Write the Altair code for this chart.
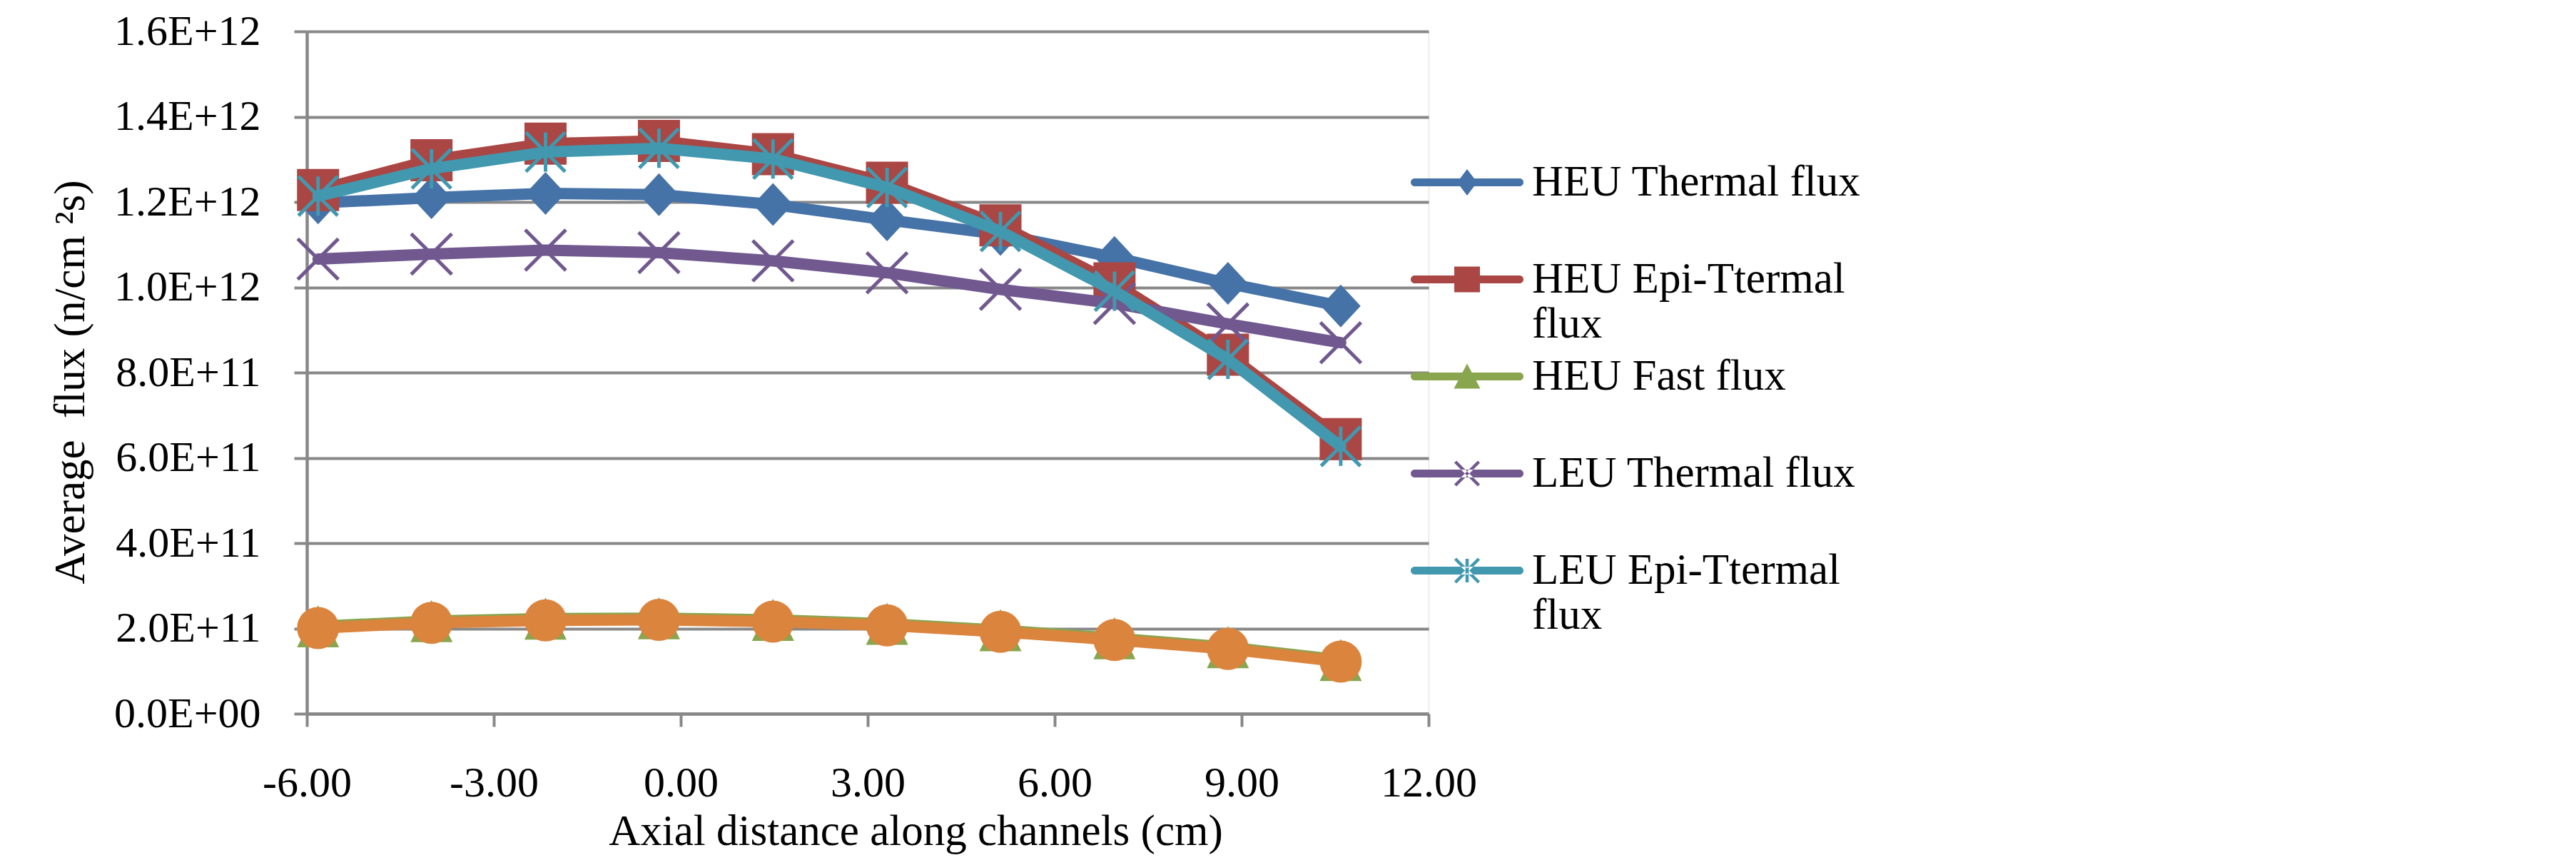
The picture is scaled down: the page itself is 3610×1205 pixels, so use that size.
import math
import altair as alt
import pandas as pd

# ---------------- data ----------------
X_CM = [-5.82, -4.00, -2.17, -0.35, 1.48, 3.31, 5.13, 6.96, 8.78, 10.59]

HEU_THERMAL = [1.198e12, 1.210e12, 1.220e12, 1.217e12, 1.194e12, 1.158e12, 1.124e12, 1.070e12, 1.009e12, 0.956e12]
HEU_EPI     = [1.228e12, 1.298e12, 1.337e12, 1.343e12, 1.312e12, 1.245e12, 1.145e12, 1.009e12, 0.842e12, 0.644e12]
HEU_FAST    = [0.205e12, 0.217e12, 0.223e12, 0.224e12, 0.220e12, 0.211e12, 0.196e12, 0.177e12, 0.156e12, 0.126e12]
LEU_THERMAL = [1.066e12, 1.078e12, 1.087e12, 1.081e12, 1.062e12, 1.034e12, 0.995e12, 0.962e12, 0.914e12, 0.870e12]
LEU_EPI     = [1.214e12, 1.278e12, 1.317e12, 1.326e12, 1.301e12, 1.234e12, 1.131e12, 0.991e12, 0.831e12, 0.627e12]
LEU_FAST    = [0.201e12, 0.213e12, 0.219e12, 0.220e12, 0.216e12, 0.207e12, 0.192e12, 0.173e12, 0.152e12, 0.122e12]

SERIES = ["HEU Thermal flux", "HEU Epi-Ttermal flux", "HEU Fast flux",
          "LEU Thermal flux", "LEU Epi-Ttermal flux", "LEU Fast flux"]
VALUES = [HEU_THERMAL, HEU_EPI, HEU_FAST, LEU_THERMAL, LEU_EPI, LEU_FAST]
LEGEND_SERIES = SERIES[:5]   # the last series has no legend entry in the reference

X_TICKS = [-6, -3, 0, 3, 6, 9, 12]
Y_TICKS = [0, 2e11, 4e11, 6e11, 8e11, 1.0e12, 1.2e12, 1.4e12, 1.6e12]

# ---------------- styles ----------------
COLORS = ["#4572A7", "#AA4643", "#89A54E", "#71588F", "#4198AF", "#DB843D"]
FONT = "Liberation Serif"
GRID = "#888888"
LABEL_FS = 61

# plot markers: (shape, filled, size, strokeWidth)
MARKERS = [
    ("M0,-1L0.93,0L0,1L-0.93,0Z", True, 3600, 0),
    ("square", True, 3481, 0),
    ("M0,-1L1,1L-1,1Z", True, 3481, 0),
    ("M-1,-1L1,1M-1,1L1,-1", False, 3249, 5),
    ("M-1,-1L1,1M-1,1L1,-1M0,-1L0,1", False, 3025, 5),
    ("circle", True, 3481, 0),
]

# legend symbols: line + marker, drawn as filled paths; unit U px
U = LABEL_FS / 2.0
LEG_S = (2 * U) ** 2
SYM_OFF = 79 - U


def p(v):
    return f"{v / U:.4f}"


def seg(x0, y0, x1, y1, w):
    dx, dy = x1 - x0, y1 - y0
    ln = math.hypot(dx, dy)
    nx, ny = -dy / ln * w / 2, dx / ln * w / 2
    return (f"M{p(x0+nx)},{p(y0+ny)}L{p(x1+nx)},{p(y1+ny)}"
            f"L{p(x1-nx)},{p(y1-ny)}L{p(x0-nx)},{p(y0-ny)}Z")


def legend_line(half_len=79.0, half_th=5.5):
    L, t = half_len - half_th, half_th
    return (f"M{p(-L)},{p(-t)}L{p(L)},{p(-t)}A{p(t)},{p(t)} 0 0 1 {p(L)},{p(t)}"
            f"L{p(-L)},{p(t)}A{p(t)},{p(t)} 0 0 1 {p(-L)},{p(-t)}Z")


a, w = 16.5, 4.5
LEG_MARK = [
    f"M0,{p(-18.5)}L{p(14)},0L0,{p(18.5)}L{p(-14)},0Z",
    f"M{p(-18)},{p(-18)}L{p(18)},{p(-18)}L{p(18)},{p(18)}L{p(-18)},{p(18)}Z",
    f"M0,{p(-18)}L{p(18.5)},{p(17)}L{p(-18.5)},{p(17)}Z",
    seg(-a, -a, a, a, w) + seg(-a, a, a, -a, w),
    seg(-a, -a, a, a, w) + seg(-a, a, a, -a, w) + seg(0, -a, 0, a, w),
]
LEG_PATHS = [legend_line() + m for m in LEG_MARK]

# ---------------- table ----------------
rows = []
for name, vals in zip(SERIES, VALUES):
    for xv, yv in zip(X_CM, vals):
        rows.append({"x": xv, "flux": yv, "series": name})
df = pd.DataFrame(rows)

x_enc = alt.X(
    "x:Q",
    scale=alt.Scale(domain=[-6, 12], nice=False, zero=False),
    axis=alt.Axis(
        values=X_TICKS,
        labelExpr="replace(format(datum.value, '.2f'), '\u2212', '-')",
        grid=False, labelFlush=False,
        domainColor=GRID, domainWidth=4.5,
        tickColor=GRID, tickWidth=4, tickSize=18,
        labelFont=FONT, labelFontSize=60, labelColor="black", labelLimit=1000,
        labelBaseline="alphabetic", labelPadding=97,
        title="Axial distance along channels (cm)",
        titleFont=FONT, titleFontSize=61, titleFontWeight="normal", titleColor="black",
        titleX=853, titleY=183, titleBaseline="alphabetic", titleAlign="center",
    ),
)
y_enc = alt.Y(
    "flux:Q",
    scale=alt.Scale(domain=[0, 1.6e12], nice=False, zero=True),
    axis=alt.Axis(
        values=Y_TICKS,
        labelExpr="datum.value == 0 ? '0.0E+00' : upper(format(datum.value, '.1e'))",
        grid=True, gridColor=GRID, gridWidth=4, labelFlush=False,
        domainColor=GRID, domainWidth=4.5,
        tickColor=GRID, tickWidth=4, tickSize=18,
        labelFont=FONT, labelFontSize=60, labelColor="black", labelPadding=47,
        labelLimit=1000,
        title="Average\u00a0 flux (n/cm \u00b2s)",
        titleFont=FONT, titleFontSize=61, titleFontWeight="normal", titleColor="black",
        titleAngle=270, titleX=-331, titleY=491, titleBaseline="middle", titleAlign="center",
    ),
)

base = alt.Chart(df)
layers = []
for i, name in enumerate(SERIES):
    sub = base.transform_filter(alt.datum.series == name)
    layers.append(
        sub.mark_line(color=COLORS[i], strokeWidth=16, strokeCap="round",
                      strokeJoin="round", opacity=1).encode(x=x_enc, y=y_enc)
    )
    shape, filled, size, sw = MARKERS[i]
    layers.append(
        sub.mark_point(shape=shape, filled=filled, size=size, color=COLORS[i],
                       strokeWidth=sw, opacity=1).encode(x=x_enc, y=y_enc)
    )

label_expr = ("indexof(datum.label, 'Epi') >= 0 ? "
              "[replace(datum.label, ' flux', ''), 'flux'] : [datum.label, '']")
leg = alt.Legend(
    title=None, orient="none", legendX=1547, legendY=181, padding=0,
    labelFont=FONT, labelFontSize=LABEL_FS, labelColor="black",
    symbolOffset=SYM_OFF, labelOffset=170 - 2 * U - SYM_OFF,
    labelLimit=2000, labelBaseline="middle", labelExpr=label_expr,
    symbolSize=LEG_S, symbolStrokeWidth=0, symbolOpacity=1, rowPadding=11,
)
legend_layer = base.transform_filter("false").mark_point(
    filled=True, opacity=1, strokeWidth=0, size=LEG_S
).encode(
    x=x_enc, y=y_enc,
    color=alt.Color("series:N", scale=alt.Scale(domain=LEGEND_SERIES, range=COLORS[:5]), legend=leg),
    shape=alt.Shape("series:N", scale=alt.Scale(domain=LEGEND_SERIES, range=LEG_PATHS), legend=leg),
)
layers.append(legend_layer)

chart = alt.layer(*layers).properties(
    width=1572, height=956,
    padding={"left": 422, "top": 36, "right": 1600, "bottom": 197},
    autosize=alt.AutoSizeParams(type="none"),
).configure_view(stroke=None).configure(background="white")

chart.save("out.html", embed_options={"renderer": "svg", "actions": False})
